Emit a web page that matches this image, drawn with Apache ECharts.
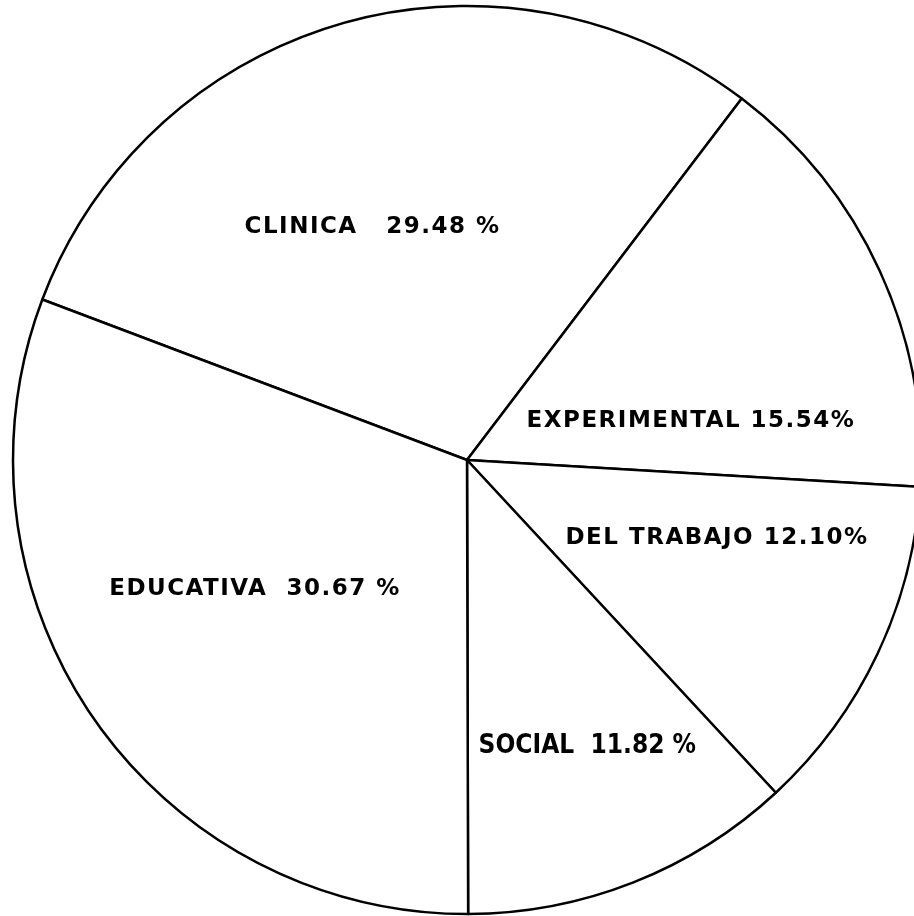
<!DOCTYPE html>
<html>
<head>
<meta charset="utf-8">
<script src="https://cdn.jsdelivr.net/npm/echarts@6/dist/echarts.min.js"></script>
<style>
  html, body { margin: 0; padding: 0; background: #fff; }
  #chart { width: 914px; height: 916px; }
</style>
</head>
<body>
<div id="chart"></div>
<script>
// ---- data ----
const categories = ['CLINICA', 'EXPERIMENTAL', 'DEL TRABAJO', 'SOCIAL', 'EDUCATIVA'];
const percents = [29.48, 15.54, 12.10, 11.82, 30.67];
const labelGaps = ['   ', ' ', ' ', '  ', '  '];
const percentGaps = [' ', '', '', ' ', ' '];

// ---- label placement offsets (relative to default inside position) ----
const labelOffsets = [[-31, -12], [15, 57], [42, -20], [36, 72], [-23, -2]];

// Letter spacing for the hand-lettered look (canvas letterSpacing)
(function () {
  const proto = window.CanvasRenderingContext2D && CanvasRenderingContext2D.prototype;
  if (!proto) return;
  const desc = Object.getOwnPropertyDescriptor(proto, 'font');
  if (!desc || !('letterSpacing' in proto)) return;
  Object.defineProperty(proto, 'font', {
    configurable: true,
    get: function () { return desc.get.call(this); },
    set: function (v) {
      desc.set.call(this, v);
      try { this.letterSpacing = /Narrow/.test(v) ? '0px' : '1.5px'; } catch (e) {}
    }
  });
})();

const baseLabel = {
  color: '#000',
  fontFamily: 'DejaVu Sans',
  fontWeight: 'bold',
  fontSize: 23
};
const socialLabel = {
  fontFamily: "'Liberation Sans Narrow', 'DejaVu Sans Condensed', 'Liberation Sans'",
  fontSize: 26,
  fontWeight: 'bold'
};

const data = categories.map(function (name, i) {
  const item = { name: name, value: percents[i] };
  if (name === 'SOCIAL') item.label = socialLabel;
  return item;
});

const chart = echarts.init(document.getElementById('chart'), null, { renderer: 'canvas' });
chart.setOption({
  backgroundColor: '#ffffff',
  animation: false,
  series: [{
    type: 'pie',
    center: [467, 460],
    radius: 454,
    startAngle: 159.3,
    clockwise: true,
    silent: true,
    avoidLabelOverlap: false,
    itemStyle: {
      color: '#ffffff',
      borderColor: '#000000',
      borderWidth: 2.5
    },
    label: Object.assign({
      show: true,
      position: 'inside',
      formatter: function (p) {
        const i = p.dataIndex;
        return p.name + labelGaps[i] + p.value.toFixed(2) + percentGaps[i] + '%';
      }
    }, baseLabel),
    labelLine: { show: false },
    labelLayout: function (params) {
      const o = labelOffsets[params.dataIndex];
      return { dx: o[0], dy: o[1] };
    },
    emphasis: { disabled: true },
    data: data
  }]
});
</script>
</body>
</html>
